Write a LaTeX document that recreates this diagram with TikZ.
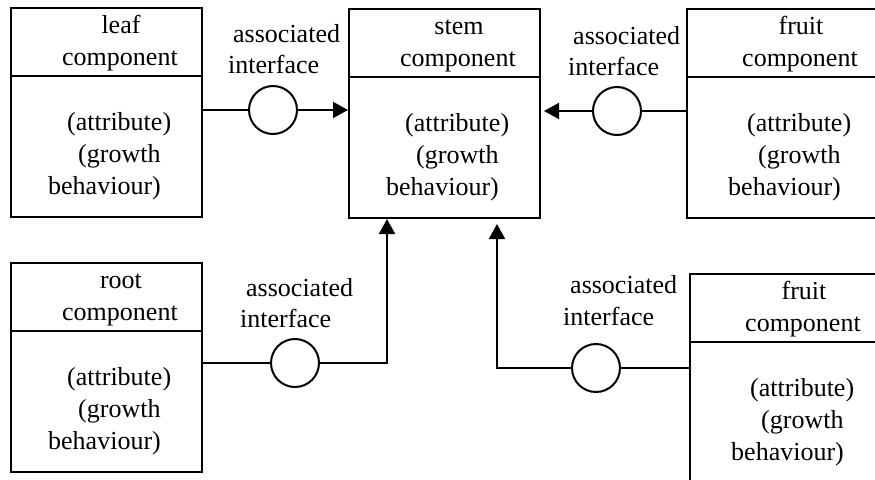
\documentclass[tikz,border=0pt]{standalone}
\usepackage{fontspec}
\setmainfont{Liberation Serif}
\usetikzlibrary{arrows.meta,positioning}

\tikzset{
  part/.style={draw, line width=2pt, minimum width=191pt, minimum height=209pt, anchor=north west, inner sep=0pt},
  iface/.style={draw, circle, line width=2pt, minimum size=48pt, inner sep=0pt, fill=white},
  txt/.style={anchor=base west, inner sep=0pt, font=\fontsize{26}{31}\selectfont},
  link/.style={line width=2pt},
  arr/.style={link, -{Triangle[length=15pt,width=16pt]}}
}

% component box: name, left, top, title, text shift
\newcommand{\plantpart}[5]{%
  \node[part] (#1) at (#2,#3) {};
  \draw[link] (#2,#3+69) -- (#2+191,#3+69);
  \node[txt, anchor=base] (#1-t) at (#2+111+#5,#3+26) {#4};
  \node[txt] (#1-c) at (#2+52+#5,#3+58) {component};
  \node[txt] (#1-a) at (#2+57+#5,#3+123) {(attribute)};
  \node[txt] (#1-g) at (#2+68+#5,#3+155) {(growth};
  \node[txt] (#1-b) at (#2+38+#5,#3+187) {behaviour)};
}

\begin{document}
\begin{tikzpicture}[x=1pt,y=-1pt]
\useasboundingbox (0,0) rectangle (875,479);
\clip (0,0) rectangle (875,479);

\plantpart{leaf}{10}{7}{leaf}{0}
\plantpart{stem}{348}{8}{stem}{0}
\plantpart{fruitA}{686}{8}{fruit}{4}
\plantpart{root}{10}{262}{root}{0}
\plantpart{fruitB}{689}{273}{fruit}{4}

% interfaces
\node[iface] (ileaf) at (273,110) {};
\node[iface] (ifruitA) at (617,111) {};
\node[iface] (iroot) at (295,363) {};
\node[iface] (ifruitB) at (596,368) {};

\node[txt] (lleaf1) at (233,42) {associated};
\node[txt] (lleaf2) at (228,73) {interface};
\node[txt] (lfruitA1) at (573,44) {associated};
\node[txt] (lfruitA2) at (568,75) {interface};
\node[txt] (lroot1) at (246,296) {associated};
\node[txt] (lroot2) at (240,327) {interface};
\node[txt] (lfruitB1) at (570,293) {associated};
\node[txt] (lfruitB2) at (563,325) {interface};

% connectors
\coordinate (rbend) at (387,363);
\coordinate (fbend) at (497,368);
\draw[link] (leaf.east |- ileaf) -- (ileaf);
\draw[arr] (ileaf) -- (ileaf -| stem.west);
\draw[link] (fruitA.west |- ifruitA) -- (ifruitA);
\draw[arr, shorten >=3pt] (ifruitA) -- (ifruitA -| stem.east);
\draw[link] (root.east |- iroot) -- (iroot);
\draw[arr] (iroot) -- (rbend) -- (rbend |- stem.south);
\draw[link] (fruitB.west |- ifruitB) -- (ifruitB);
\draw[arr, shorten >=5pt] (ifruitB) -- (fbend) -- (fbend |- stem.south);
\end{tikzpicture}
\end{document}
